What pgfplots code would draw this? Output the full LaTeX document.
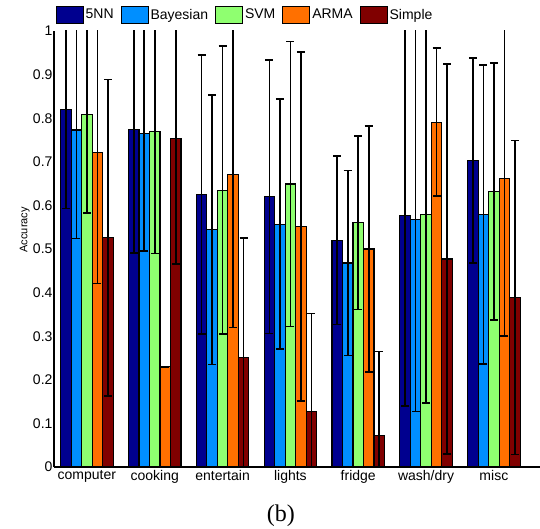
\documentclass[border=0pt]{standalone}
\usepackage{fontspec}
\setmainfont{Liberation Sans}
\newfontfamily\capfont{Liberation Serif}
\usepackage{pgfplots}
\usepackage{pgfplotstable}
\pgfplotsset{compat=1.18}
\definecolor{c1}{RGB}{0,0,143}
\definecolor{c2}{RGB}{0,143,255}
\definecolor{c3}{RGB}{143,255,112}
\definecolor{c4}{RGB}{255,112,0}
\definecolor{c5}{RGB}{128,0,0}
\pgfplotstableread{
x nn nne bay baye svm svme arma armae simp simpe
0 0.820 0.227 0.773 0.249 0.808 0.226 0.721 0.300 0.526 0.363
1 0.774 0.283 0.764 0.268 0.769 0.279 0.230 0.000 0.754 0.289
2 0.625 0.320 0.544 0.309 0.635 0.330 0.670 0.350 0.251 0.275
3 0.620 0.314 0.557 0.287 0.649 0.327 0.552 0.400 0.128 0.224
4 0.520 0.193 0.468 0.212 0.560 0.199 0.500 0.282 0.072 0.193
5 0.577 0.437 0.567 0.440 0.579 0.433 0.791 0.170 0.477 0.447
6 0.703 0.235 0.579 0.343 0.632 0.295 0.661 0.360 0.389 0.360
}\data
\begin{document}
\begin{tikzpicture}
\begin{axis}[
  scale only axis, width=486pt, height=436pt,
  xmin=-0.485, xmax=6.68, ymin=0, ymax=1,
  axis x line*=bottom, axis y line*=left,
  axis line style={line width=1.3pt},
  ybar=0pt, bar width=10.5pt,
  xtick={0,1,2,3,4,5,6},
  xticklabels={computer,cooking,entertain,lights,fridge,wash/dry,misc},
  ytick={0,0.1,0.2,0.3,0.4,0.5,0.6,0.7,0.8,0.9,1},
  yticklabels={0,0.1,0.2,0.3,0.4,0.5,0.6,0.7,0.8,0.9,1},
  major tick length=0pt,
  ticklabel style={font=\fontsize{14}{16}\selectfont},
  yticklabel style={xshift=2pt},
  ylabel={Accuracy},
  ylabel style={font=\fontsize{11}{13}\selectfont, at={(axis description cs:-0.06,0.544)}, anchor=center},
  legend columns=-1,
  legend style={at={(axis description cs:-0.003,1.037)}, anchor=west, draw=none, fill=none,
    font=\fontsize{14}{16}\selectfont,
    /tikz/every even column/.append style={column sep=5pt}},
  every axis plot/.append style={draw=black, line width=1.2pt},
  every axis plot post/.append style={legend image code/.code={\draw[#1,line width=0.9pt] (0pt,-8.5pt) rectangle (27pt,8.5pt);}},
  error bars/error bar style={black, line width=1.7pt},
  error bars/error mark options={black, line width=1.7pt, mark size=4pt, rotate=90},
]
\addplot[fill=c1, error bars/.cd, y dir=both, y explicit] table[x=x, y=nn, y error=nne] {\data};
\addplot[fill=c2, error bars/.cd, y dir=both, y explicit] table[x=x, y=bay, y error=baye] {\data};
\addplot[fill=c3, error bars/.cd, y dir=both, y explicit] table[x=x, y=svm, y error=svme] {\data};
\addplot[fill=c4, error bars/.cd, y dir=both, y explicit] table[x=x, y=arma, y error=armae] {\data};
\addplot[fill=c5, error bars/.cd, y dir=both, y explicit] table[x=x, y=simp, y error=simpe] {\data};
\legend{5NN,Bayesian,SVM,ARMA,Simple}
\coordinate (cap) at (axis description cs:0.467,-0.112);
\coordinate (bl) at (axis description cs:-0.1111,-0.1422);
\coordinate (tr) at (axis description cs:1,1.0711);
\end{axis}
\node[font=\capfont\fontsize{24}{26}\selectfont] at (cap) {(b)};
\pgfresetboundingbox
\useasboundingbox (bl) rectangle (tr);
\end{tikzpicture}
\end{document}
